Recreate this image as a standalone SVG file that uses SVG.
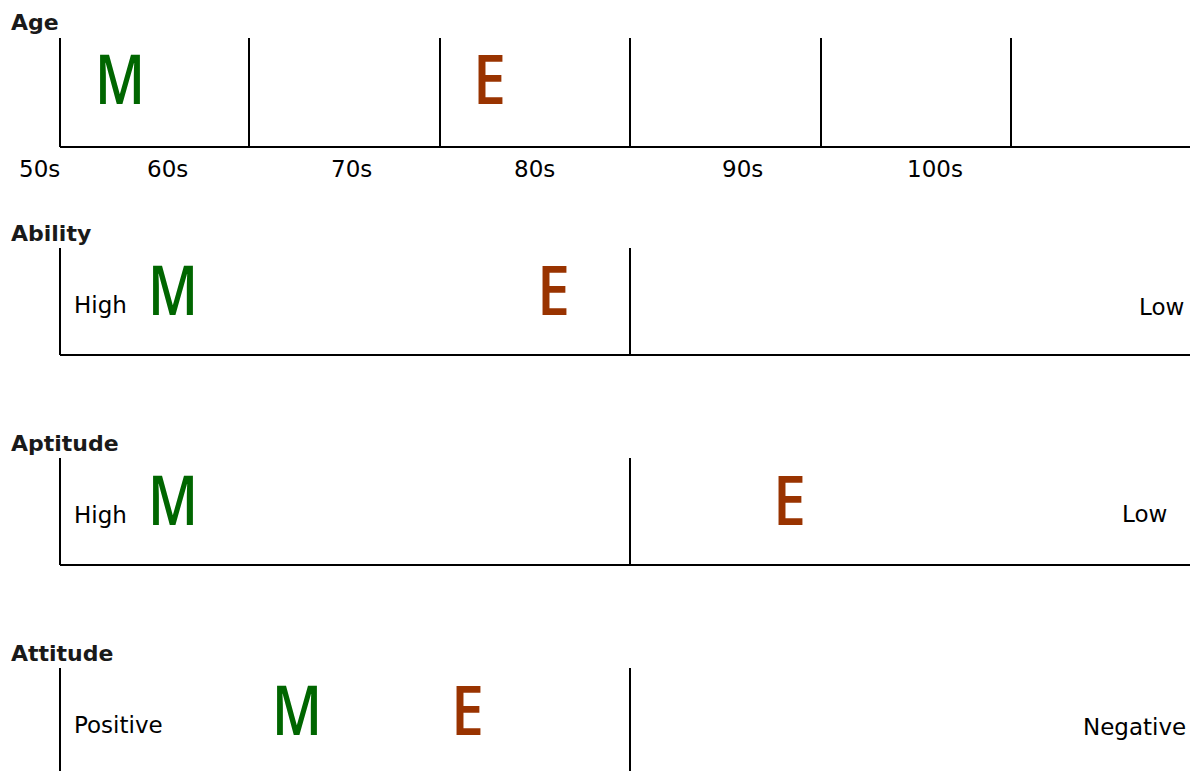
<svg xmlns="http://www.w3.org/2000/svg" width="1190" height="771" viewBox="0 0 1190 771">
<style>
.ln{stroke:#000;stroke-width:2;fill:none}
.t{font-family:"DejaVu Sans","Liberation Sans",sans-serif;font-size:23px;fill:#000}
.h{font-family:"DejaVu Sans","Liberation Sans",sans-serif;font-size:22px;font-weight:bold;fill:#1a1a1a}
.m{font-family:"Open Sans","Liberation Sans",sans-serif;font-size:69px;font-weight:600;fill:#006600}
.e{font-family:"Open Sans","Liberation Sans",sans-serif;font-size:69px;font-weight:600;fill:#993300}
</style>
<rect width="1190" height="771" fill="#fff"/>
<g id="connectors">
<path class="ln" d="M60 38V147M249 38V147M440 38V147M630 38V147M821 38V147M1011 38V147M60 147H1190"/>
<path class="ln" d="M60 248V355M630 248V355M60 355H1190"/>
<path class="ln" d="M60 458V565M630 458V565M60 565H1190"/>
<path class="ln" d="M60 668V771M630 668V771"/>
</g>
<g id="age">
<text class="h" x="11" y="30">Age</text>
<text class="m" x="95" y="104" textLength="50" lengthAdjust="spacingAndGlyphs">M</text>
<text class="e" x="473" y="104" textLength="33" lengthAdjust="spacingAndGlyphs">E</text>
<text class="t" x="19" y="177">50s</text>
<text class="t" x="147" y="177">60s</text>
<text class="t" x="331" y="177">70s</text>
<text class="t" x="514" y="177">80s</text>
<text class="t" x="722" y="177">90s</text>
<text class="t" x="907" y="177">100s</text>
</g>
<g id="ability">
<text class="h" x="11" y="241">Ability</text>
<text class="t" x="74" y="313">High</text>
<text class="m" x="148" y="315" textLength="50" lengthAdjust="spacingAndGlyphs">M</text>
<text class="e" x="537" y="315" textLength="33" lengthAdjust="spacingAndGlyphs">E</text>
<text class="t" x="1139" y="315">Low</text>
</g>
<g id="aptitude">
<text class="h" x="11" y="451">Aptitude</text>
<text class="t" x="74" y="523">High</text>
<text class="m" x="148" y="525" textLength="50" lengthAdjust="spacingAndGlyphs">M</text>
<text class="e" x="773" y="525" textLength="33" lengthAdjust="spacingAndGlyphs">E</text>
<text class="t" x="1122" y="522">Low</text>
</g>
<g id="attitude">
<text class="h" x="11" y="661">Attitude</text>
<text class="t" x="74" y="733">Positive</text>
<text class="m" x="272" y="735" textLength="50" lengthAdjust="spacingAndGlyphs">M</text>
<text class="e" x="451" y="735" textLength="33" lengthAdjust="spacingAndGlyphs">E</text>
<text class="t" x="1083" y="735">Negative</text>
</g>
</svg>
